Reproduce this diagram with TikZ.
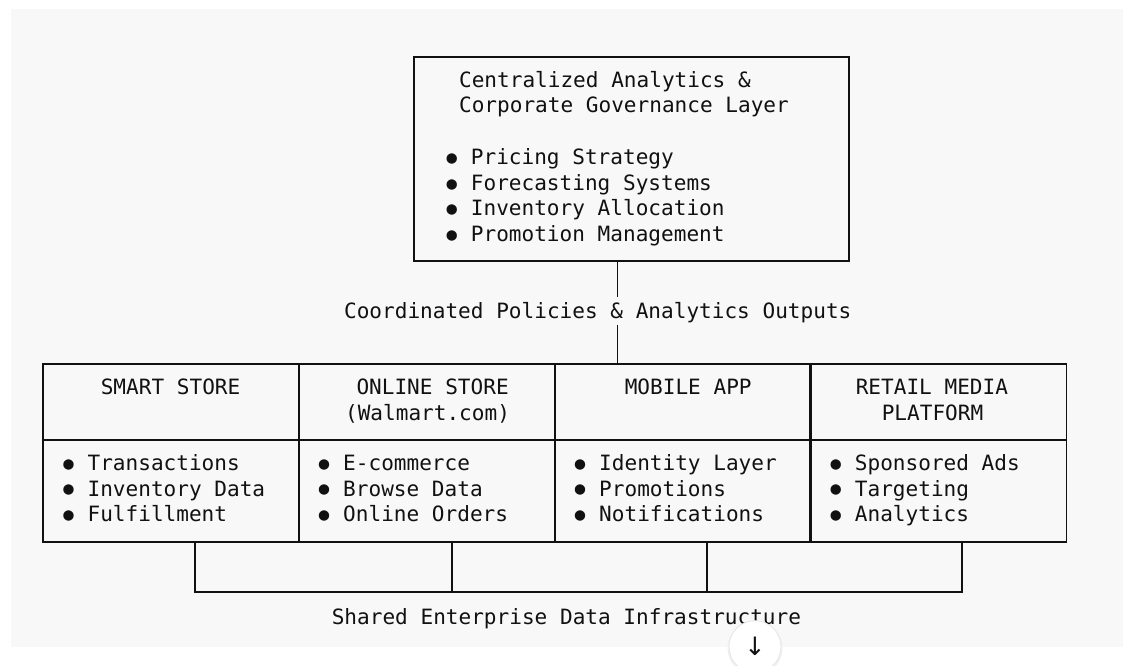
\documentclass[tikz,border=0pt]{standalone}
\usepackage{fontspec}
\setmonofont{DejaVu Sans Mono}
\newfontfamily\arrowfont{DejaVu Sans}
\definecolor{bg}{HTML}{F8F8F8}
\definecolor{ink}{HTML}{111111}
\definecolor{ring}{HTML}{E4E4E4}
\newcommand\bul{\makebox[19.05pt][l]{\hspace{0.8pt}\raisebox{1.1pt}{\fontsize{13pt}{14pt}\selectfont●}}}
\begin{document}
\begin{tikzpicture}[x=0.75pt,y=-0.75pt,
  line width=1.2pt,
  txt/.style={anchor=base west,inner sep=0pt,text=ink,font=\ttfamily\fontsize{15.8pt}{19pt}\selectfont},
  boxst/.style={draw=ink,anchor=north west,inner sep=0pt},
  lbl/.style={inner xsep=0pt,inner ysep=0pt,text=ink,font=\ttfamily\fontsize{15.8pt}{19pt}\selectfont},
  wire/.style={draw=ink,line width=1.2pt}]
\useasboundingbox (0,0) rectangle (1125,666);
\fill[bg] (11,9) rectangle (1123,647);

% top box
\node[boxst,minimum width=435*0.75pt,minimum height=204*0.75pt] (top) at (413,56) {};
\node[txt] (t1) at (458.3,87.3) {Centralized Analytics \&};
\node[txt] (t2) at (458.3,113.0) {Corporate Governance Layer};
\node[txt] (t3) at (444.7,165.0) {\bul Pricing Strategy};
\node[txt] (t4) at (444.7,190.5) {\bul Forecasting Systems};
\node[txt] (t5) at (444.7,216.0) {\bul Inventory Allocation};
\node[txt] (t6) at (444.7,241.5) {\bul Promotion Management};

% label between
\node[lbl,anchor=base west] (mid) at (343.3,318.3) {\vphantom{Ap}Coordinated Policies \& Analytics Outputs};
\coordinate (lx) at (617.5,0);

% columns headers and bodies
\foreach \n/\x in {1/42,2/298,3/553.5,4/809}{
  \node[boxst,minimum width=256.5*0.75pt,minimum height=76*0.75pt] (h\n) at (\x,363) {};
  \node[boxst,minimum width=256.5*0.75pt,minimum height=102*0.75pt] (b\n) at (\x,439) {};
}

\node[txt] (h1a) at (100,395) {SMART STORE};
\node[txt] (h2a) at (355.7,395) {ONLINE STORE};
\node[txt] (h2b) at (344.3,420.5) {(Walmart.com)};
\node[txt] (h3a) at (624,395) {MOBILE APP};
\node[txt] (h4a) at (855,395) {RETAIL MEDIA};
\node[txt] (h4b) at (881,420.5) {PLATFORM};

\node[txt] (i11) at (61.4,470.7) {\bul Transactions};
\node[txt] (i12) at (61.4,496.3) {\bul Inventory Data};
\node[txt] (i13) at (61.4,521.9) {\bul Fulfillment};
\node[txt] (i21) at (317,470.7) {\bul E-commerce};
\node[txt] (i22) at (317,496.3) {\bul Browse Data};
\node[txt] (i23) at (317,521.9) {\bul Online Orders};
\node[txt] (i31) at (573,470.7) {\bul Identity Layer};
\node[txt] (i32) at (573,496.3) {\bul Promotions};
\node[txt] (i33) at (573,521.9) {\bul Notifications};
\node[txt] (i41) at (828.7,470.7) {\bul Sponsored Ads};
\node[txt] (i42) at (828.7,496.3) {\bul Targeting};
\node[txt] (i43) at (828.7,521.9) {\bul Analytics};

% vertical connector through label
\draw[wire] (top.south -| lx) -- ([yshift=3pt]mid.north -| lx);
\draw[wire] ([yshift=-1.5pt]mid.south -| lx) -- (h3.north -| lx);

% bottom infrastructure bus
\coordinate (d1) at (195,592);
\coordinate (d2) at (451.7,592);
\coordinate (d3) at (706.7,592);
\coordinate (d4) at (961.7,592);
\draw[wire] (b1.south -| d1) -- (d1) -- (d4) -- (b4.south -| d4);
\draw[wire] (b2.south -| d2) -- (d2);
\draw[wire] (b3.south -| d3) -- (d3);
\node[txt] (shared) at (331,624.3) {Shared Enterprise Data Infrastructure};

% scroll button
\fill[black!6] (755,648.2) circle (27.5);
\node[circle,fill=white,draw=ring,line width=0.5pt,minimum size=52*0.75pt,inner sep=0pt] (btn) at (755,646.7) {};
\node[text=ink,inner sep=0pt,font=\arrowfont\fontsize{19pt}{20pt}\selectfont] (arr) at (btn.center) {↓};
\end{tikzpicture}
\end{document}
